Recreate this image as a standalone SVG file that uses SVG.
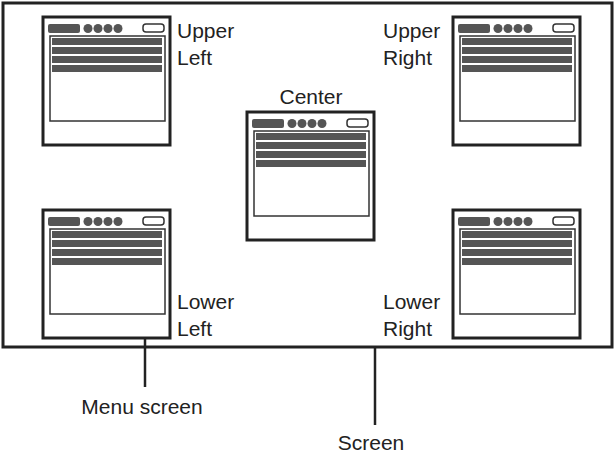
<svg xmlns="http://www.w3.org/2000/svg" width="615" height="459" viewBox="0 0 615 459">
<style>
.o{fill:#fff;stroke:#222;stroke-width:3}
.i{fill:#fff;stroke:#333;stroke-width:1.5}
.d{fill:#555}
.t{font-family:"Liberation Sans",Arial,sans-serif;font-size:21px;fill:#222}
.l{stroke:#222;stroke-width:2.5;fill:none}
</style>
<defs>
<g id="menu">
<rect class="o" x="0" y="0" width="127" height="128"/>
<rect class="d" x="5" y="7" width="32" height="9" rx="2"/>
<circle class="d" cx="45" cy="11.5" r="4.5"/><circle class="d" cx="55" cy="11.5" r="4.5"/>
<circle class="d" cx="65" cy="11.5" r="4.5"/><circle class="d" cx="75" cy="11.5" r="4.5"/>
<rect x="100" y="7" width="21" height="8" rx="3" fill="#fff" stroke="#333" stroke-width="1.5"/>
<rect class="i" x="7" y="19" width="115" height="85"/>
<rect class="d" x="9" y="21" width="110" height="7"/>
<rect class="d" x="9" y="30" width="110" height="7"/>
<rect class="d" x="9" y="39" width="110" height="7"/>
<rect class="d" x="9" y="48" width="110" height="7"/>
</g>
</defs>
<rect id="screen" x="3" y="3" width="609" height="344" fill="#fff" stroke="#222" stroke-width="3"/>
<g id="ul"><use href="#menu" x="43" y="17"/><text class="t" x="177" y="38">Upper</text><text class="t" x="177" y="65">Left</text></g>
<g id="ur"><use href="#menu" x="453" y="17"/><text class="t" x="383" y="38">Upper</text><text class="t" x="383" y="65">Right</text></g>
<g id="c"><use href="#menu" x="247" y="112"/><text class="t" x="311" y="104" text-anchor="middle">Center</text></g>
<g id="ll"><use href="#menu" x="43" y="210"/><text class="t" x="177" y="309">Lower</text><text class="t" x="177" y="336">Left</text></g>
<g id="lr"><use href="#menu" x="453" y="210"/><text class="t" x="383" y="309">Lower</text><text class="t" x="383" y="336">Right</text></g>
<g id="connectors">
<line class="l" x1="145" y1="339" x2="145" y2="387"/>
<line class="l" x1="375" y1="347" x2="375" y2="425"/>
</g>
<text class="t" x="142" y="414" text-anchor="middle">Menu screen</text>
<text class="t" x="371" y="450" text-anchor="middle">Screen</text>
</svg>
